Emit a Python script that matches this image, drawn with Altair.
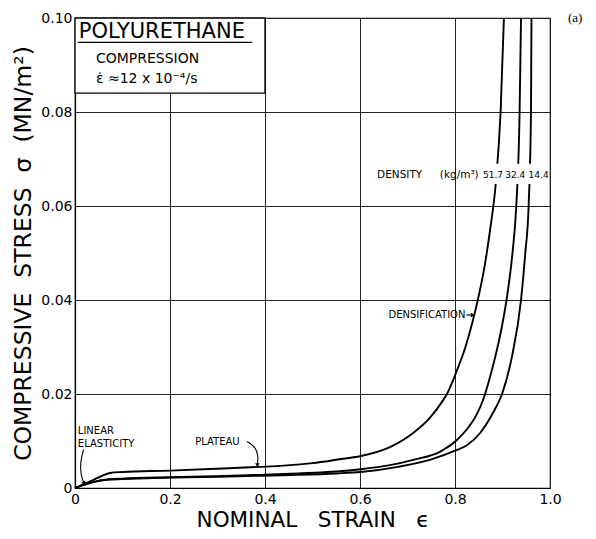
import altair as alt
import pandas as pd

# ---- curve data ----
strain_517 = [0, 0.02, 0.038, 0.055, 0.074, 0.1, 0.2, 0.3, 0.39, 0.432, 0.5, 0.55, 0.602, 0.663,
              0.712, 0.747, 0.775, 0.783, 0.804, 0.822, 0.836, 0.848, 0.862, 0.874, 0.886, 0.896, 0.903]
stress_517 = [0, 0.0009, 0.0017, 0.0025, 0.0032, 0.0034, 0.0037, 0.0041, 0.0045, 0.0047, 0.0053, 0.006,
              0.0068, 0.0087, 0.0117, 0.0149, 0.0187, 0.020, 0.025, 0.030, 0.035, 0.040, 0.047, 0.055,
              0.065, 0.080, 0.100]

strain_324 = [0, 0.02, 0.04, 0.07, 0.1, 0.2, 0.3, 0.39, 0.47, 0.55, 0.602, 0.66, 0.712, 0.768, 0.804,
              0.825, 0.845, 0.860, 0.872, 0.885, 0.898, 0.910, 0.921, 0.929, 0.936, 0.939]
stress_324 = [0, 0.0007, 0.0013, 0.0018, 0.002, 0.0023, 0.0025, 0.0028, 0.0031, 0.0035, 0.004, 0.0048,
              0.006, 0.0077, 0.0102, 0.0125, 0.0155, 0.019, 0.023, 0.028, 0.034, 0.041, 0.050, 0.060,
              0.080, 0.100]

strain_144 = [0, 0.02, 0.04, 0.07, 0.1, 0.2, 0.3, 0.39, 0.47, 0.55, 0.602, 0.68, 0.747, 0.804, 0.825,
              0.853, 0.88, 0.899, 0.92, 0.939, 0.948, 0.955, 0.96, 0.961]
stress_144 = [0, 0.0007, 0.0013, 0.0018, 0.0019, 0.0022, 0.0024, 0.0026, 0.0028, 0.0031, 0.0034, 0.0045,
              0.006, 0.0081, 0.0091, 0.0117, 0.016, 0.020, 0.028, 0.040, 0.050, 0.060, 0.080, 0.100]

densities = ["51.7", "32.4", "14.4"]
x_ticks = [0, 0.2, 0.4, 0.6, 0.8, 1.0]
y_ticks = [0, 0.02, 0.04, 0.06, 0.08, 0.10]

rows = []
for name, xs, ys in [("51.7", strain_517, stress_517), ("32.4", strain_324, stress_324),
                     ("14.4", strain_144, stress_144)]:
    for i, (a, b) in enumerate(zip(xs, ys)):
        rows.append({"density": name, "strain": a, "stress": b, "order": i})
curves_df = pd.DataFrame(rows)

FONT = "DejaVu Sans"
NB = "\u00a0"
xscale = alt.Scale(domain=[0, 1], nice=False, zero=False)
yscale = alt.Scale(domain=[0, 0.1], nice=False, zero=False)
xaxis = alt.Axis(values=x_ticks, labelExpr="datum.value == 0 ? '0' : format(datum.value, '.1f')",
                 grid=True, gridColor="#222222", gridWidth=1, domainColor="black", domainWidth=1.2,
                 ticks=False, labelPadding=4, labelFontSize=14, labelFont=FONT, labelColor="black",
                 labelFlush=False, labelOverlap=False,
                 titleFontSize=21.5, titleFont=FONT, titleFontWeight="normal", titleColor="black",
                 titlePadding=3)
yaxis = alt.Axis(values=y_ticks, labelExpr="datum.value == 0 ? '0' : format(datum.value, '.2f')",
                 grid=True, gridColor="#222222", gridWidth=1, domainColor="black", domainWidth=1.2,
                 ticks=False, labelPadding=3, labelFontSize=14, labelFont=FONT, labelColor="black",
                 labelFlush=False, labelOverlap=False,
                 titleFontSize=23.5, titleFont=FONT, titleFontWeight="normal", titleColor="black",
                 titlePadding=5)
XT = "NOMINAL" + NB * 2 + " STRAIN" + NB * 2 + " \u03f5"
YT = "COMPRESSIVE" + NB + " STRESS" + NB + " \u03c3" + NB + " (MN/m\u00b2)"


def X(f="strain"):
    return alt.X(f"{f}:Q", scale=xscale, axis=xaxis, title=XT)


def Y(f="stress"):
    return alt.Y(f"{f}:Q", scale=yscale, axis=yaxis, title=YT)


curves = alt.Chart(curves_df).mark_line(color="black", strokeWidth=1.9, interpolate="monotone").encode(
    x=X(), y=Y(), detail="density:N", order="order:Q")

# ---- title box ----
box_df = pd.DataFrame([{"strain": 0.0, "strain2": 0.4, "stress": 0.084, "stress2": 0.1}])
box = alt.Chart(box_df).mark_rect(fill="white", stroke="black", strokeWidth=1.3).encode(
    x=X(), x2="strain2:Q", y=Y(), y2="stress2:Q")

label_bg_df = pd.DataFrame([{"strain": 0.862, "strain2": 0.995, "stress": 0.0647, "stress2": 0.0690}])
label_bg = alt.Chart(label_bg_df).mark_rect(fill="white").encode(
    x=X(), x2="strain2:Q", y=Y(), y2="stress2:Q")


def txt(df, size, align="left", baseline="alphabetic", font=FONT):
    return alt.Chart(pd.DataFrame(df)).mark_text(
        align=align, baseline=baseline, font=font, fontSize=size, color="black").encode(
        x=X(), y=Y(), text="label:N")


t_poly = txt([{"strain": 0.008, "stress": 0.0957, "label": "POLYURETHANE"}], 21)
underline = alt.Chart(pd.DataFrame([{"strain": 0.006, "strain2": 0.373, "stress": 0.0948}])).mark_rule(
    color="black", strokeWidth=1.3).encode(x=X(), x2="strain2:Q", y=Y())
t_comp = txt([{"strain": 0.044, "stress": 0.0904, "label": "COMPRESSION"},
              {"strain": 0.044, "stress": 0.0862, "label": "\u03b5\u0307 \u224812 x 10\u207b\u2074/s"}], 14)

t_dens = txt([{"strain": 0.636, "stress": 0.0660, "label": "DENSITY"},
              {"strain": 0.768, "stress": 0.0660, "label": "(kg/m\u00b3)"}], 10.5)
t_vals = txt([{"strain": 0.880, "stress": 0.0660, "label": "51.7"},
              {"strain": 0.927, "stress": 0.0660, "label": "32.4"},
              {"strain": 0.976, "stress": 0.0660, "label": "14.4"}], 9, align="center")

t_densif = txt([{"strain": 0.822, "stress": 0.0361, "label": "DENSIFICATION"}], 10, align="right")
t_lin = txt([{"strain": 0.006, "stress": 0.0114, "label": "LINEAR"},
             {"strain": 0.006, "stress": 0.0087, "label": "ELASTICITY"}], 10)
t_plat = txt([{"strain": 0.253, "stress": 0.0091, "label": "PLATEAU"}], 10)
t_a = txt([{"strain": 1.053, "stress": 0.1, "label": "(a)"}], 13, align="center", baseline="middle",
          font="Liberation Serif")

# ---- arrows ----
arrow_rows = [
    {"arrow": "dens", "order": 0, "strain": 0.824, "stress": 0.0368},
    {"arrow": "dens", "order": 1, "strain": 0.836, "stress": 0.0368},
    {"arrow": "lin", "order": 0, "strain": 0.018, "stress": 0.0082},
    {"arrow": "lin", "order": 1, "strain": 0.011, "stress": 0.0055},
    {"arrow": "lin", "order": 2, "strain": 0.012, "stress": 0.0028},
    {"arrow": "lin", "order": 3, "strain": 0.019, "stress": 0.0010},
    {"arrow": "plat", "order": 0, "strain": 0.362, "stress": 0.0099},
    {"arrow": "plat", "order": 1, "strain": 0.380, "stress": 0.0088},
    {"arrow": "plat", "order": 2, "strain": 0.386, "stress": 0.0068},
    {"arrow": "plat", "order": 3, "strain": 0.384, "stress": 0.0052},
]
arrows = alt.Chart(pd.DataFrame(arrow_rows)).mark_line(
    color="black", strokeWidth=1.1, interpolate="basis").encode(
    x=X(), y=Y(), detail="arrow:N", order="order:Q")

heads_df = pd.DataFrame([
    {"strain": 0.836, "stress": 0.0368, "ang": 90},
    {"strain": 0.019, "stress": 0.0011, "ang": 150},
    {"strain": 0.384, "stress": 0.0050, "ang": 180},
])
heads = alt.Chart(heads_df).mark_point(shape="triangle", filled=True, color="black", size=22, opacity=1).encode(
    x=X(), y=Y(), angle=alt.Angle("ang:Q", scale=None))

chart = alt.layer(
    curves, label_bg, box, t_poly, underline, t_comp, t_dens, t_vals, t_densif, t_lin, t_plat, t_a,
    arrows, heads
).properties(
    width=475, height=470,
    padding={"left": 67, "top": 10, "right": 38, "bottom": 43},
    autosize=alt.AutoSizeParams(type="none"),
    background="white",
).configure_view(stroke="black", strokeWidth=1.2)

chart.save("out.html", embed_options={"renderer": "svg", "actions": False})
